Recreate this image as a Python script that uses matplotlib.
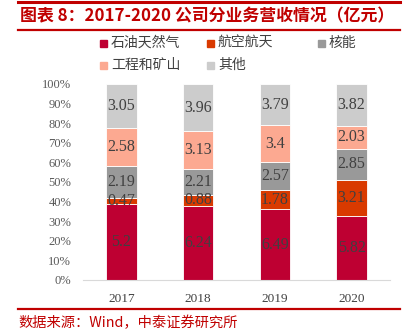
import numpy as np
import matplotlib.pyplot as plt
from matplotlib.lines import Line2D
from matplotlib.patches import Rectangle

plt.rcParams['font.family'] = ['Noto Sans CJK SC', 'DejaVu Sans']

years = ['2017', '2018', '2019', '2020']
segments = ['石油天然气', '航空航天', '核能', '工程和矿山', '其他']
oil_gas = [5.2, 6.24, 6.49, 5.82]
aerospace = [0.47, 0.88, 1.78, 3.21]
nuclear = [2.19, 2.21, 2.57, 2.85]
mining = [2.58, 3.13, 3.4, 2.03]
others = [3.05, 3.96, 3.79, 3.82]
colors = ['#BE0032', '#D93A00', '#999999', '#FCA991', '#CCCCCC']

W, H = 409, 335
fig = plt.figure(figsize=(W / 100, H / 100), dpi=100)

# red header / footer rules and texts
red = '#C00000'
fig.add_artist(Line2D([18 / W, 400 / W], [1 - 2 / H, 1 - 2 / H], color=red, lw=2.2))
fig.add_artist(Line2D([18 / W, 400 / W], [1 - 30 / H, 1 - 30 / H], color=red, lw=1.6))
fig.add_artist(Line2D([18 / W, 400 / W], [1 - 309 / H, 1 - 309 / H], color=red, lw=1.6))
fig.text(20 / W, 1 - 16 / H, '图表 8：2017-2020 公司分业务营收情况（亿元）',
         color=red, fontsize=12.2, fontweight='bold', style='italic',
         ha='left', va='center')
fig.text(18 / W, 1 - 323 / H, '数据来源：Wind，中泰证券研究所',
         color=red, fontsize=10.3, ha='left', va='center')

ax = fig.add_axes([83 / W, (H - 280) / H, 307 / W, 196 / H])

data = np.array([oil_gas, aerospace, nuclear, mining, others])
shares = data / data.sum(axis=0)
x = np.arange(len(years))
bottom = np.zeros(len(years))
for i, name in enumerate(segments):
    ax.bar(x, shares[i], bottom=bottom, width=0.4, color=colors[i],
           edgecolor='white', linewidth=0.6, label=name)
    for j in range(len(years)):
        ax.text(x[j], bottom[j] + shares[i][j] / 2, f'{data[i][j]:g}',
                ha='center', va='center', fontsize=11.5, color='#404040',
                family='Liberation Serif')
    bottom += shares[i]

ax.set_xlim(-0.5, len(years) - 0.5)
ax.set_ylim(0, 1)
ax.set_xticks(x)
ax.set_xticklabels(years, family='Liberation Serif', fontsize=9.5, color='#404040')
ax.set_yticks(np.linspace(0, 1, 11))
ax.set_yticklabels([f'{v}%' for v in range(0, 101, 10)],
                   family='Liberation Serif', fontsize=9, color='#595959')
ax.tick_params(length=0, pad=9)
ax.tick_params(axis='y', pad=8.5)
for side in ['left', 'right', 'top']:
    ax.spines[side].set_visible(False)
ax.spines['bottom'].set_color('#D9D9D9')

# legend laid out on a fixed grid: three slots per row
slot_x = [100, 207, 318]
slot_y = [43, 65]
for k, name in enumerate(segments):
    px = slot_x[k % 3]
    py = slot_y[k // 3]
    fig.add_artist(Rectangle((px / W, 1 - (py + 3.5) / H), 7 / W, 7 / H,
                             color=colors[k], transform=fig.transFigure))
    fig.text((px + 11) / W, 1 - py / H, name, fontsize=10, color='#404040',
             ha='left', va='center')

fig.savefig('out.png', dpi=100)
